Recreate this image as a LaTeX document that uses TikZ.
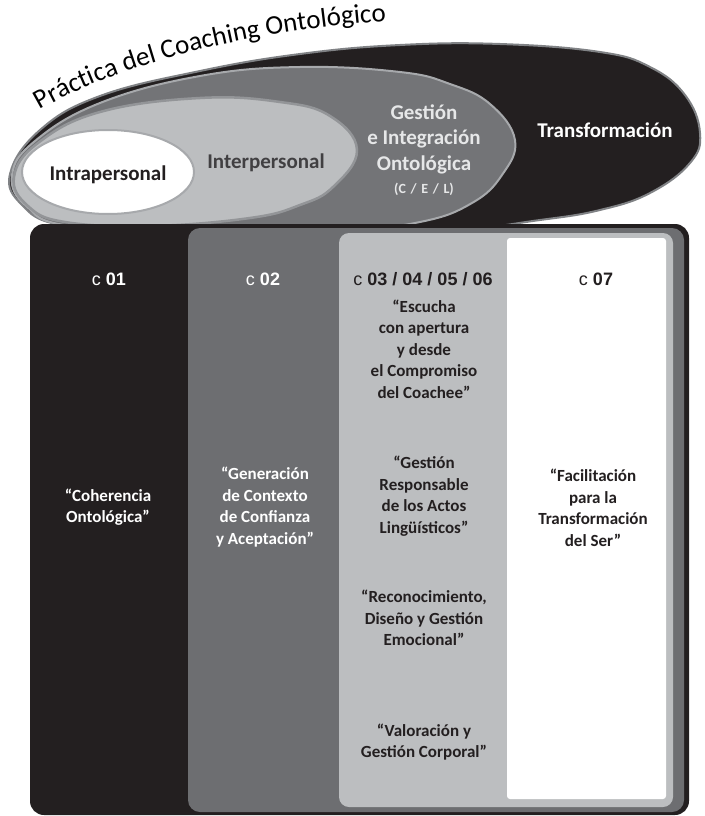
\documentclass[tikz,border=0pt]{standalone}
\usepackage{fontspec}
\setmainfont{Carlito}
\newfontfamily\numfont{Liberation Sans}
\usetikzlibrary{decorations.text}

\definecolor{inkblack}{HTML}{231F20}
\definecolor{darkgrey}{HTML}{6D6E71}
\definecolor{midgrey}{HTML}{808285}
\definecolor{ovalgrey}{HTML}{737477}
\definecolor{lightgrey}{HTML}{BCBEC0}
\definecolor{ringgrey}{HTML}{939598}
\definecolor{edgegrey}{HTML}{A7A9AC}
\definecolor{paletext}{HTML}{E6E7E8}
\definecolor{softink}{HTML}{414042}

\tikzstyle{ring} = [line width=2pt]
\tikzstyle{ringlabel} = [font=\fontsize{21}{25.5}\selectfont\bfseries, align=center, inner sep=0pt]
\tikzstyle{colhead} = [font=\numfont\fontsize{18}{18}\selectfont\bfseries, inner sep=0pt]
\tikzstyle{coltext} = [font=\fontsize{17}{21.5}\selectfont\bfseries, align=center, inner sep=0pt]

\newcommand{\colnum}[1]{{\mdseries c}\ #1}
\newcommand{\titlefont}{\fontsize{27}{27}\selectfont}

\begin{document}
\begin{tikzpicture}[x=1pt,y=-1pt]
\useasboundingbox (0,0) rectangle (704,816);

% nested rings
\filldraw[fill=inkblack, draw=midgrey, ring] plot[smooth cycle, tension=0.7] coordinates {
  (10,174) (40,130) (100,96) (200,71) (300,54) (400,45) (500,44) (600,52)
  (650,67) (685,95) (700,133) (690,163) (650,193) (600,210) (540,220)
  (450,230) (300,232) (150,232) (60,225) (22,205)};
\filldraw[fill=ovalgrey, draw=edgegrey, ring] plot[smooth cycle, tension=0.7] coordinates {
  (12,175) (35,141) (100,103) (200,76) (300,67) (400,72) (450,84) (490,104)
  (515,140) (502,175) (472,203) (420,222) (330,232) (200,232) (70,226) (26,206)};
\filldraw[fill=lightgrey, draw=ringgrey, line width=2.5pt] plot[smooth cycle, tension=0.7] coordinates {
  (14,177) (38,143) (100,112) (200,98) (280,102) (330,116) (357,150)
  (333,187) (300,205) (250,218) (150,226) (65,222) (28,206)};
\filldraw[fill=white, draw=edgegrey, ring] (108,172) ellipse [x radius=86pt, y radius=42pt];

% title
\path[decorate, decoration={text along path, text align=left,
  text={|\titlefont|Práctica del Coaching Ontológico}}]
  (40,110) .. controls (112,68) and (240,30) .. (400,20);

% ring labels
\node[ringlabel, text=inkblack] (intra) at (108,175) {Intrapersonal};
\node[ringlabel, text=softink] (inter) at (266,163) {Interpersonal};
\node[ringlabel, text=paletext] (gestion) at (424,139) {Gestión\\e Integración\\Ontológica};
\node[font=\fontsize{14}{14}\selectfont\bfseries, text=paletext, inner sep=0pt] (cel) at (424,189) {(C\,\,/\,\,E\,\,/\,\,L)};
\node[ringlabel, text=white] (transf) at (605,130) {Transformación};

% columns
\fill[inkblack, rounded corners=14pt] (30,224) rectangle (689,815);
\fill[darkgrey, rounded corners=12pt] (188,228) rectangle (684,812);
\fill[lightgrey, rounded corners=10pt] (339,233) rectangle (673,807);
\fill[white, rounded corners=3pt] (507,238) rectangle (666,799);

% column heads
\node[colhead, text=white] (h1) at (109,279) {\colnum{01}};
\node[colhead, text=white] (h2) at (263,279) {\colnum{02}};
\node[colhead, text=inkblack] (h3) at (423,279) {\colnum{03 / 04 / 05 / 06}};
\node[colhead, text=inkblack] (h4) at (596,279) {\colnum{07}};

% column texts
\node[coltext, text=white] (t1) at (108,507) {“Coherencia\\Ontológica”};
\node[coltext, text=white] (t2) at (265,507) {“Generación\\de Contexto\\de Confianza\\y Aceptación”};
\node[coltext, text=inkblack] (t3a) at (424,349) {“Escucha\\con apertura\\y desde\\el Compromiso\\del Coachee”};
\node[coltext, text=inkblack] (t3b) at (424,496) {“Gestión\\Responsable\\de los Actos\\Lingüísticos”};
\node[coltext, text=inkblack] (t3c) at (424,618) {“Reconocimiento,\\Diseño y Gestión\\Emocional”};
\node[coltext, text=inkblack] (t3d) at (424,742) {“Valoración y\\Gestión Corporal”};
\node[coltext, text=inkblack] (t4) at (593,508) {“Facilitación\\para la\\Transformación\\del Ser”};
\end{tikzpicture}
\end{document}
